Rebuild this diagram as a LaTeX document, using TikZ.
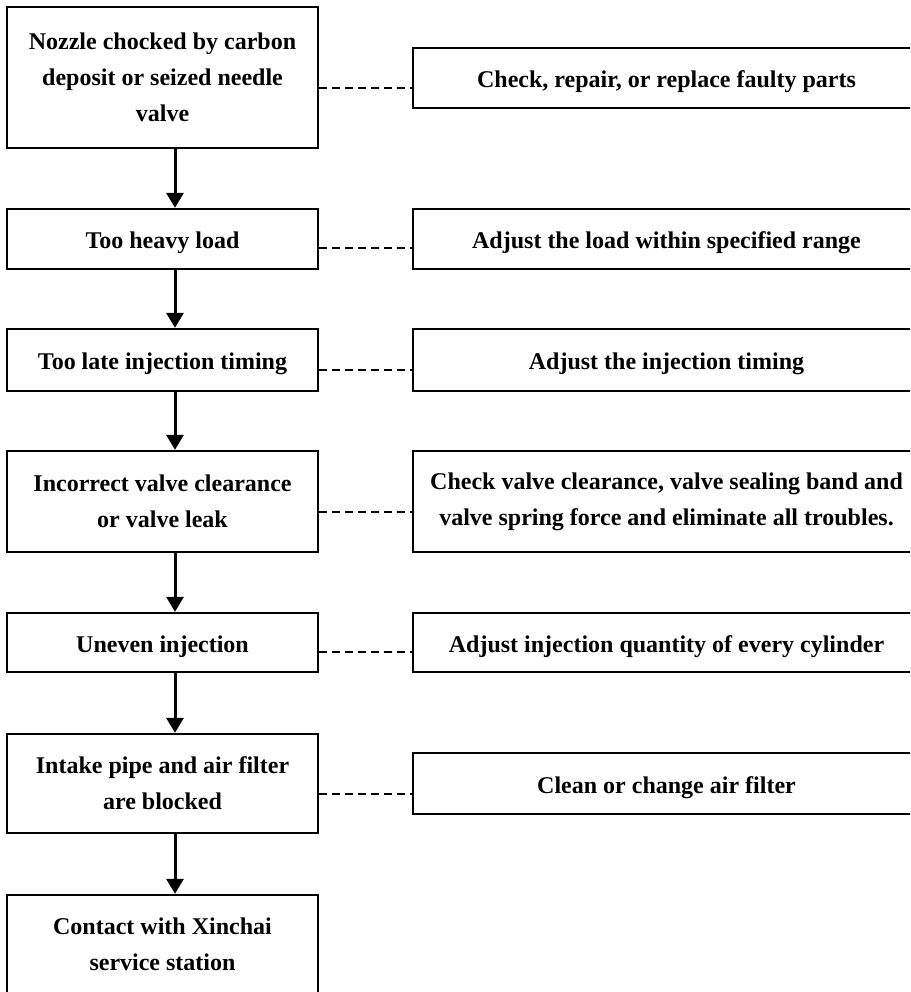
\documentclass[tikz,border=0pt]{standalone}
\usepackage{fontspec}
\setmainfont{Liberation Serif}
\usetikzlibrary{arrows.meta}
\begin{document}
\begin{tikzpicture}[x=1pt,y=-1pt,
  txt/.style={font=\fontsize{24}{36}\selectfont\bfseries, align=center},
  sl/.style={text height=19pt, text depth=0pt},
  lbox/.style={txt, draw, line width=2.3pt, inner sep=0pt, minimum width=311pt},
  rbox/.style={txt, draw, line width=2.3pt, inner sep=0pt, minimum width=507pt},
  flow/.style={line width=3pt, -{Triangle[width=17pt,length=15pt]}},
  link/.style={line width=2.6pt, dash pattern=on 8pt off 5pt}]
\useasboundingbox (0,0) rectangle (910,992);
\clip (0,0) rectangle (910,992);
% left column
\node[lbox, minimum height=141pt] (b1) at (162.5,77.5) {Nozzle chocked by carbon\\deposit or seized needle\\valve};
\node[lbox, sl, minimum height=60pt] (b2) at (162.5,239) {Too heavy load};
\node[lbox, sl, minimum height=62pt] (b3) at (162.5,360) {Too late injection timing};
\node[lbox, minimum height=101pt] (b4) at (162.5,501.5) {Incorrect valve clearance\\or valve leak};
\node[lbox, sl, minimum height=59pt] (b5) at (162.5,642.5) {Uneven injection};
\node[lbox, minimum height=99pt] (b6) at (162.5,783.5) {Intake pipe and air filter\\are blocked};
\node[lbox, minimum height=98pt] (b7) at (162.5,944) {Contact with Xinchai\\service station};
% right column
\node[rbox, sl, minimum height=60pt] (r1) at (666.5,78) {Check, repair, or replace faulty parts};
\node[rbox, sl, minimum height=60pt] (r2) at (666.5,239) {Adjust the load within specified range};
\node[rbox, sl, minimum height=62pt] (r3) at (666.5,360) {Adjust the injection timing};
\node[rbox, minimum height=101pt] (r4) at (666.5,501.5) {Check valve clearance, valve sealing band and\\valve spring force and eliminate all troubles.};
\node[rbox, sl, minimum height=59pt] (r5) at (666.5,642.5) {Adjust injection quantity of every cylinder};
\node[rbox, sl, minimum height=61pt] (r6) at (666.5,783.5) {Clean or change air filter};
% arrows
\coordinate (ax) at (175,0);
\draw[flow] (b1.south -| ax) -- (b2.north -| ax);
\draw[flow] (b2.south -| ax) -- (b3.north -| ax);
\draw[flow] (b3.south -| ax) -- (b4.north -| ax);
\draw[flow] (b4.south -| ax) -- (b5.north -| ax);
\draw[flow] (b5.south -| ax) -- (b6.north -| ax);
\draw[flow] (b6.south -| ax) -- (b7.north -| ax);
% dashed links
\foreach \i/\s in {1/10.5,2/9,3/10,4/10.5,5/9.5,6/10.5}{
  \coordinate (d\i) at ([yshift=-\s pt]b\i.east);
  \draw[link] (d\i) -- (d\i -| r\i.west);
}
\end{tikzpicture}
\end{document}
